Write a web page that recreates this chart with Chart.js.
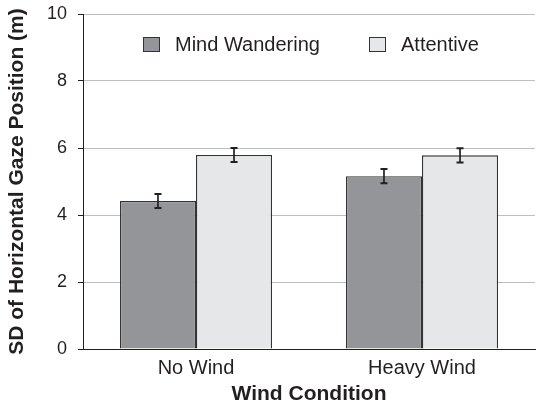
<!DOCTYPE html>
<html lang="en">
<head>
  <title>Gaze Position by Wind Condition</title>
  <script src="https://cdn.jsdelivr.net/npm/chart.js"></script>
  <style>
    html, body { margin: 0; padding: 0; background: #fff; }
    #wrap { width: 541px; height: 407px; }
  </style>
</head>
<body>
<div id="wrap"><canvas id="gazeChart"></canvas></div>

<script>
const categories = ['No Wind', 'Heavy Wind'];
const mindWandering = [4.42, 5.16];
const attentive = [5.79, 5.78];
const mindWanderingErr = [0.21, 0.21];
const attentiveErr = [0.21, 0.21];
const yTicks = [0, 2, 4, 6, 8, 10];

const ink = '#231f20';
const font = 'Liberation Sans, Arial, Helvetica, sans-serif';

// error bars, drawn from the err arrays through the y scale
const errorBars = {
  id: 'errorBars',
  afterDatasetsDraw(chart) {
    const { ctx } = chart;
    const y = chart.scales.y;
    chart.data.datasets.forEach((ds, i) => {
      const meta = chart.getDatasetMeta(i);
      meta.data.forEach((bar, j) => {
        const v = ds.data[j], e = ds.err[j];
        const top = y.getPixelForValue(v + e);
        const bot = y.getPixelForValue(v - e);
        ctx.save();
        ctx.strokeStyle = ink;
        ctx.lineWidth = 1.7;
        ctx.beginPath();
        ctx.moveTo(bar.x, top); ctx.lineTo(bar.x, bot);
        ctx.stroke();
        ctx.lineWidth = 2;
        ctx.beginPath();
        ctx.moveTo(bar.x - 3.5, top); ctx.lineTo(bar.x + 3.5, top);
        ctx.moveTo(bar.x - 3.5, bot); ctx.lineTo(bar.x + 3.5, bot);
        ctx.stroke();
        ctx.restore();
      });
    });
  }
};

// legend sits inside the plot, near the top
const innerLegend = {
  id: 'innerLegend',
  afterDraw(chart) {
    const { ctx } = chart;
    const xs = [143, 369];
    chart.data.datasets.forEach((ds, i) => {
      const x = xs[i];
      ctx.save();
      ctx.fillStyle = ds.backgroundColor;
      ctx.strokeStyle = ds.borderColor;
      ctx.lineWidth = 1;
      ctx.fillRect(x, 37, 17, 15);
      ctx.strokeRect(x + 0.5, 37.5, 16, 14);
      ctx.fillStyle = ink;
      ctx.font = '20px ' + font;
      ctx.textBaseline = 'middle';
      ctx.fillText(ds.label, x + 32, 45);
      ctx.restore();
    });
  }
};

new Chart(document.getElementById('gazeChart'), {
  type: 'bar',
  data: {
    labels: categories,
    datasets: [
      { label: 'Mind Wandering', data: mindWandering, err: mindWanderingErr,
        backgroundColor: '#939598', borderColor: '#333333', borderWidth: 1.3 },
      { label: 'Attentive', data: attentive, err: attentiveErr,
        backgroundColor: '#e6e7e8', borderColor: '#333333', borderWidth: 1.3 }
    ]
  },
  options: {
    animation: false,
    responsive: true,
    maintainAspectRatio: false,
    layout: { padding: { top: 14, right: 6, left: 0, bottom: 0 } },
    datasets: { bar: { categoryPercentage: 0.673, barPercentage: 1 } },
    plugins: { legend: { display: false }, tooltip: { enabled: false } },
    scales: {
      x: {
        grid: { display: false, drawTicks: false },
        border: { color: ink, width: 1 },
        ticks: { color: ink, font: { family: font, size: 20 }, padding: 7 },
        title: { display: true, text: 'Wind Condition', color: ink,
                 font: { family: font, size: 21, weight: 'bold' }, padding: { top: 0, bottom: 0 } },
        afterFit(s) { s.height = 58; s.paddingLeft = 0; s.paddingRight = 0; }
      },
      y: {
        min: 0, max: 10,
        afterBuildTicks(s) { s.ticks = yTicks.map(v => ({ value: v })); },
        grid: { color: '#bcbec0', tickColor: ink, tickLength: 5 },
        border: { color: ink, width: 1 },
        ticks: { color: ink, font: { family: font, size: 18 }, padding: 11 },
        title: { display: true, text: 'SD of Horizontal Gaze Position (m)', color: ink,
                 font: { family: font, size: 21, weight: 'bold' }, padding: { top: 5, bottom: 0 } },
        afterFit(s) { s.width = 83; s.paddingTop = 0; s.paddingBottom = 0; }
      }
    }
  },
  plugins: [errorBars, innerLegend]
});
</script>
</body>
</html>
